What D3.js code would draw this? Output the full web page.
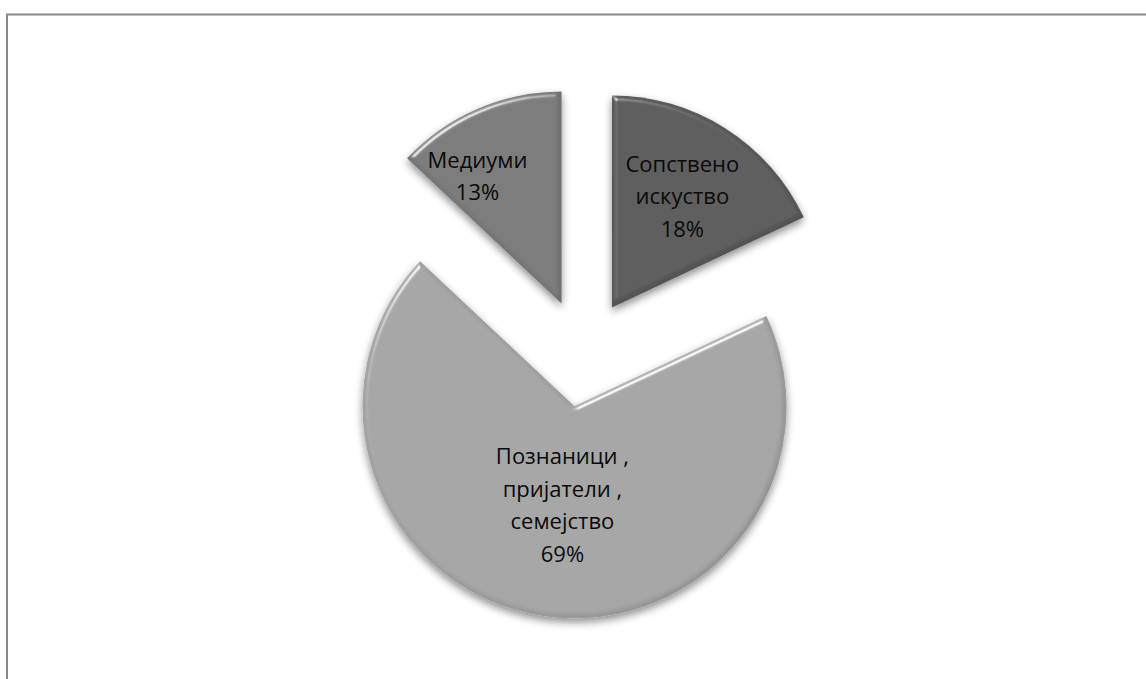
<!DOCTYPE html>
<html>
<head>
<meta charset="utf-8">
<script src="https://cdn.jsdelivr.net/npm/d3@7"></script>
<style>
  html, body { margin: 0; padding: 0; background: #ffffff; }
  svg { display: block; }
</style>
</head>
<body>
<svg id="chart" width="1146" height="679"></svg>
<script>
// Sources of information (percent shares), clockwise from 12 o'clock
const categories = ["Сопствено искуство", "Познаници , пријатели , семејство", "Медиуми"];
const values = [18, 69, 13];
const labelLines = [
  ["Сопствено", "искуство", "18%"],
  ["Познаници ,", "пријатели ,", "семејство", "69%"],
  ["Медиуми", "13%"]
];
const fills = ["#5c5c5c", "#a5a5a5", "#7a7a7a"];

const width = 1146, height = 679;
const cx = 583, cy = 353;
const radius = 212;
const explode = 54;
// label distance from slice tip, as a share of the radius, and angular nudge (deg)
const labelRadius = [0.62, 0.47, 0.72];
const labelNudge = [0, -2, -10];
const lineHeight = 32.5;

const svg = d3.select("#chart");

// Outer frame (top and left edges visible)
svg.append("path")
  .attr("d", "M7,679 L7,14.5 L1146,14.5")
  .attr("fill", "none")
  .attr("stroke", "#8a8a8a")
  .attr("stroke-width", 2);

const defs = svg.append("defs");

// soft drop shadow + rounded bevel lighting
const f = defs.append("filter").attr("id", "bevel")
  .attr("x", "-20%").attr("y", "-20%").attr("width", "140%").attr("height", "140%");
f.append("feGaussianBlur").attr("in", "SourceAlpha").attr("stdDeviation", 4).attr("result", "blur");
f.append("feOffset").attr("in", "blur").attr("dx", 0).attr("dy", 4).attr("result", "offBlur");
f.append("feComponentTransfer").attr("in", "offBlur").attr("result", "shadow")
  .append("feFuncA").attr("type", "linear").attr("slope", 0.45);
f.append("feGaussianBlur").attr("in", "SourceAlpha").attr("stdDeviation", 2.5).attr("result", "bumpBlur");
const spec = f.append("feSpecularLighting").attr("in", "bumpBlur")
  .attr("surfaceScale", 4).attr("specularConstant", 0.7).attr("specularExponent", 32)
  .attr("lighting-color", "#ffffff").attr("result", "spec");
spec.append("feDistantLight").attr("azimuth", 235).attr("elevation", 32);
f.append("feComposite").attr("in", "spec").attr("in2", "SourceAlpha").attr("operator", "in").attr("result", "specIn");
// darker rim along the lower-right edges
f.append("feOffset").attr("in", "bumpBlur").attr("dx", -2).attr("dy", -2).attr("result", "shift");
f.append("feComposite").attr("in", "SourceAlpha").attr("in2", "shift").attr("operator", "out").attr("result", "rimRaw");
f.append("feGaussianBlur").attr("in", "rimRaw").attr("stdDeviation", 1.2).attr("result", "rimBlur");
f.append("feComposite").attr("in", "rimBlur").attr("in2", "SourceAlpha").attr("operator", "in").attr("result", "rimIn");
f.append("feComponentTransfer").attr("in", "rimIn").attr("result", "rim")
  .append("feFuncA").attr("type", "linear").attr("slope", 0.35);
f.append("feComposite").attr("in", "SourceGraphic").attr("in2", "specIn")
  .attr("operator", "arithmetic").attr("k1", 0).attr("k2", 1).attr("k3", 1).attr("k4", 0).attr("result", "lit");
const merge = f.append("feMerge");
merge.append("feMergeNode").attr("in", "shadow");
merge.append("feMergeNode").attr("in", "lit");
merge.append("feMergeNode").attr("in", "rim");

const pie = d3.pie().sort(null).value(d => d);
const arcs = pie(values);
const arc = d3.arc().innerRadius(0).outerRadius(radius);

const g = svg.append("g").attr("transform", `translate(${cx},${cy})`);

const slices = g.selectAll("g.slice")
  .data(arcs)
  .join("g")
  .attr("class", "slice")
  .attr("transform", d => {
    const a = (d.startAngle + d.endAngle) / 2;
    return `translate(${explode * Math.sin(a)},${-explode * Math.cos(a)})`;
  });

slices.append("path")
  .attr("d", arc)
  .attr("fill", (d, i) => fills[i])
  .attr("filter", "url(#bevel)");

slices.each(function(d, i) {
  const a = (d.startAngle + d.endAngle) / 2 + labelNudge[i] * Math.PI / 180;
  const r = radius * labelRadius[i];
  const x = r * Math.sin(a), y = -r * Math.cos(a);
  const lines = labelLines[i];
  const t = d3.select(this).append("text")
    .attr("text-anchor", "middle")
    .attr("font-family", "'Open Sans', sans-serif")
    .attr("font-size", 22)
    .attr("fill", "#0a0a0a");
  lines.forEach((ln, k) => {
    t.append("tspan")
      .attr("x", x)
      .attr("y", y + (k - (lines.length - 1) / 2) * lineHeight)
      .attr("dy", "0.36em")
      .text(ln);
  });
});
</script>
</body>
</html>
